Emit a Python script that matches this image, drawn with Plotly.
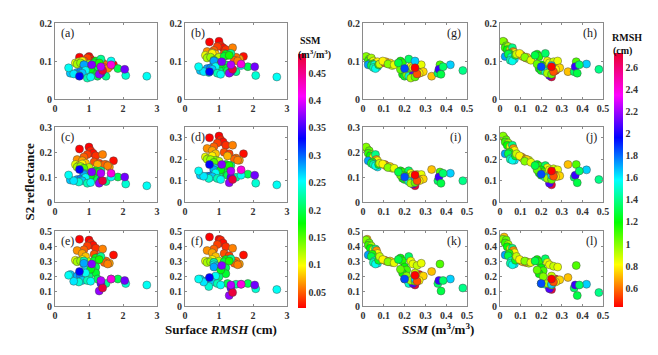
import plotly.graph_objects as go

# ---------------- data ----------------
rmsh = [0.72, 1.00, 1.05, 1.12, 0.95, 1.20, 0.85, 1.40, 1.72, 0.65,
        0.80, 1.15, 1.30, 1.60, 1.50, 1.45, 1.55, 1.25, 0.90, 0.60,
        0.70, 0.80, 0.65, 0.90, 0.75, 1.00, 0.85, 1.20, 1.15, 1.35,
        0.85, 1.20, 1.10, 1.20, 1.25, 1.00, 0.85, 0.90, 0.85, 1.05,
        1.30, 0.45, 0.65, 0.75, 0.90, 0.80, 0.70, 1.50, 2.70, 2.08,
        0.95, 1.05, 1.85, 1.65, 0.55, 0.40, 0.72, 1.35, 1.08, 2.05,
        1.30, 1.65, 1.40, 1.35]
ssm = [0.020, 0.015, 0.030, 0.025, 0.040, 0.035, 0.050, 0.060, 0.025, 0.065,
       0.070, 0.045, 0.040, 0.070, 0.055, 0.050, 0.060, 0.075, 0.080, 0.105,
       0.110, 0.095, 0.125, 0.140, 0.130, 0.120, 0.150, 0.180, 0.190, 0.220,
       0.230, 0.200, 0.210, 0.190, 0.200, 0.210, 0.240, 0.260, 0.280, 0.180,
       0.170, 0.270, 0.280, 0.290, 0.250, 0.270, 0.240, 0.220, 0.250, 0.240,
       0.230, 0.250, 0.200, 0.250, 0.260, 0.250, 0.330, 0.360, 0.370, 0.365,
       0.375, 0.420, 0.480, 0.385]
refl_1 = [0.110, 0.112, 0.105, 0.100, 0.108, 0.095, 0.100, 0.095, 0.090, 0.095,
          0.098, 0.092, 0.088, 0.085, 0.090, 0.083, 0.080, 0.090, 0.092, 0.095,
          0.098, 0.100, 0.092, 0.088, 0.095, 0.092, 0.090, 0.100, 0.095, 0.105,
          0.085, 0.075, 0.070, 0.065, 0.060, 0.063, 0.082, 0.088, 0.090, 0.078,
          0.095, 0.068, 0.070, 0.072, 0.075, 0.068, 0.062, 0.060, 0.060, 0.062,
          0.055, 0.058, 0.080, 0.100, 0.066, 0.082, 0.060, 0.068, 0.090, 0.078,
          0.065, 0.090, 0.075, 0.085]
refl_2 = [0.150, 0.152, 0.140, 0.135, 0.138, 0.130, 0.128, 0.135, 0.112, 0.125,
          0.122, 0.120, 0.118, 0.105, 0.110, 0.102, 0.100, 0.115, 0.118, 0.115,
          0.112, 0.120, 0.108, 0.105, 0.110, 0.110, 0.102, 0.118, 0.112, 0.120,
          0.100, 0.090, 0.085, 0.080, 0.075, 0.078, 0.095, 0.098, 0.100, 0.092,
          0.115, 0.075, 0.080, 0.082, 0.085, 0.078, 0.070, 0.072, 0.058, 0.062,
          0.068, 0.065, 0.085, 0.088, 0.072, 0.085, 0.072, 0.072, 0.098, 0.085,
          0.068, 0.092, 0.078, 0.090]
refl_3 = [0.212, 0.220, 0.205, 0.195, 0.190, 0.185, 0.180, 0.190, 0.165, 0.170,
          0.165, 0.160, 0.155, 0.140, 0.150, 0.150, 0.145, 0.150, 0.155, 0.150,
          0.145, 0.152, 0.140, 0.135, 0.142, 0.138, 0.135, 0.125, 0.120, 0.125,
          0.115, 0.105, 0.100, 0.095, 0.090, 0.092, 0.108, 0.110, 0.110, 0.108,
          0.120, 0.088, 0.090, 0.092, 0.098, 0.085, 0.080, 0.082, 0.065, 0.072,
          0.075, 0.078, 0.100, 0.100, 0.085, 0.108, 0.130, 0.085, 0.120, 0.100,
          0.075, 0.115, 0.085, 0.115]
refl_4 = [0.300, 0.308, 0.290, 0.280, 0.275, 0.265, 0.258, 0.265, 0.225, 0.250,
          0.240, 0.232, 0.225, 0.195, 0.205, 0.200, 0.195, 0.215, 0.225, 0.210,
          0.205, 0.215, 0.200, 0.195, 0.198, 0.190, 0.185, 0.175, 0.168, 0.170,
          0.160, 0.150, 0.140, 0.135, 0.125, 0.130, 0.150, 0.155, 0.150, 0.150,
          0.170, 0.125, 0.120, 0.122, 0.135, 0.118, 0.110, 0.115, 0.080, 0.088,
          0.110, 0.105, 0.130, 0.125, 0.120, 0.145, 0.175, 0.115, 0.175, 0.125,
          0.090, 0.150, 0.105, 0.145]
refl_5 = [0.445, 0.440, 0.420, 0.405, 0.400, 0.385, 0.375, 0.380, 0.340, 0.370,
          0.350, 0.345, 0.330, 0.285, 0.300, 0.290, 0.280, 0.305, 0.330, 0.305,
          0.300, 0.310, 0.295, 0.290, 0.300, 0.295, 0.288, 0.320, 0.300, 0.330,
          0.300, 0.260, 0.240, 0.220, 0.180, 0.200, 0.280, 0.270, 0.285, 0.245,
          0.310, 0.210, 0.200, 0.200, 0.220, 0.170, 0.160, 0.150, 0.140, 0.150,
          0.170, 0.165, 0.180, 0.180, 0.165, 0.205, 0.230, 0.150, 0.280, 0.170,
          0.100, 0.180, 0.120, 0.170]
refl_6 = [0.460, 0.445, 0.440, 0.420, 0.410, 0.395, 0.380, 0.385, 0.340, 0.370,
          0.355, 0.350, 0.335, 0.280, 0.300, 0.285, 0.275, 0.305, 0.330, 0.300,
          0.295, 0.310, 0.290, 0.285, 0.295, 0.300, 0.290, 0.310, 0.295, 0.315,
          0.290, 0.255, 0.235, 0.215, 0.150, 0.195, 0.275, 0.265, 0.260, 0.240,
          0.300, 0.180, 0.170, 0.175, 0.200, 0.160, 0.130, 0.145, 0.110, 0.115,
          0.150, 0.140, 0.150, 0.145, 0.160, 0.180, 0.190, 0.120, 0.270, 0.140,
          0.070, 0.145, 0.090, 0.140]

left_labels = ["(a)", "(b)", "(c)", "(d)", "(e)", "(f)"]
right_labels = ["(g)", "(h)", "(i)", "(j)", "(k)", "(l)"]
rmsh_ticks = [0, 1, 2, 3]
ssm_ticks = [0, 0.1, 0.2, 0.3, 0.4, 0.5]
y_ticks_row1 = [0, 0.1, 0.2]
y_ticks_row2 = [0, 0.1, 0.2, 0.3]
y_ticks_row3 = [0, 0.1, 0.2, 0.3, 0.4, 0.5]
ssm_cbar_ticks = [0.05, 0.1, 0.15, 0.2, 0.25, 0.3, 0.35, 0.4, 0.45]
rmsh_cbar_ticks = [0.6, 0.8, 1, 1.2, 1.4, 1.6, 1.8, 2, 2.2, 2.4, 2.6]

# ---------------- layout helpers ----------------
W, H = 658, 355
def fx(px):
    return px / W
def fy(py):
    return 1 - py / H

SERIF = "Liberation Serif"
hsv = [[0, "rgb(255,0,0)"], [1/6, "rgb(255,255,0)"], [2/6, "rgb(0,255,0)"],
       [3/6, "rgb(0,255,255)"], [4/6, "rgb(0,0,255)"], [5/6, "rgb(255,0,255)"],
       [1, "rgb(235,0,45)"]]

cols_px = [(55, 157), (185, 287), (363, 467), (500, 603)]
rows_px = [(23, 99), (127, 202), (231, 306)]
refl = [refl_1, refl_2, refl_3, refl_4, refl_5, refl_6]
y_ranges = [[0, 0.2], [0, 0.2], [0, 0.3], [0, 0.35], [0, 0.5], [0, 0.5]]
y_tickvals = [y_ticks_row1, y_ticks_row1, y_ticks_row2, y_ticks_row2, y_ticks_row3, y_ticks_row3]

fig = go.Figure()
layout = {}
annotations = []
axis_font = dict(family=SERIF, size=10, color="#333333", weight="bold")

n = 0
for r in range(3):
    for c in range(4):
        n += 1
        band = r * 2 + (c % 2)
        left_side = c < 2
        xs = rmsh if left_side else ssm
        cs = ssm if left_side else rmsh
        cmin, cmax = (0.021, 0.485) if left_side else (0.43, 2.73)
        marker = dict(size=8, color=cs, colorscale=hsv, cmin=cmin, cmax=cmax,
                      line=dict(color="rgba(70,70,70,0.75)", width=0.6))
        if r == 0 and c == 0:
            marker["showscale"] = True
            marker["colorbar"] = dict(
                x=fx(298), xanchor="left", y=fy(181), yanchor="middle",
                len=254 / H, lenmode="fraction", thickness=8, thicknessmode="pixels",
                xpad=0, ypad=0, outlinewidth=0, ticks="", ticklabelposition="outside",
                tickvals=ssm_cbar_ticks, ticktext=[str(v) for v in ssm_cbar_ticks],
                tickfont=dict(family=SERIF, size=10, color="#333333", weight="bold"))
        elif r == 0 and c == 2:
            marker["showscale"] = True
            marker["colorbar"] = dict(
                x=fx(614), xanchor="left", y=fy(180), yanchor="middle",
                len=254 / H, lenmode="fraction", thickness=9, thicknessmode="pixels",
                xpad=0, ypad=0, outlinewidth=0, ticks="", ticklabelposition="outside",
                tickvals=rmsh_cbar_ticks, ticktext=[f"{v:g}" for v in rmsh_cbar_ticks],
                tickfont=dict(family=SERIF, size=10, color="#333333", weight="bold"))
        else:
            marker["showscale"] = False
        fig.add_trace(go.Scatter(x=xs, y=refl[band], mode="markers", marker=marker,
                                 xaxis=f"x{n}", yaxis=f"y{n}", showlegend=False,
                                 hoverinfo="skip"))
        x0, x1 = cols_px[c]
        y0, y1 = rows_px[r]
        common = dict(showline=True, linecolor="#8a8a8a", linewidth=1, mirror="ticks",
                      ticks="inside", ticklen=2, tickcolor="#8a8a8a", showgrid=False,
                      zeroline=False, tickfont=axis_font, fixedrange=True, automargin=False)
        layout[f"xaxis{n}"] = dict(domain=[fx(x0), fx(x1)], anchor=f"y{n}",
                                   range=[0, 3] if left_side else [0, 0.5],
                                   tickvals=rmsh_ticks if left_side else ssm_ticks,
                                   ticktext=[f"{v:g}" for v in (rmsh_ticks if left_side else ssm_ticks)],
                                   **common)
        layout[f"yaxis{n}"] = dict(domain=[fy(y1), fy(y0)], anchor=f"x{n}",
                                   range=y_ranges[band], tickvals=y_tickvals[band],
                                   ticktext=[f"{v:g}" for v in y_tickvals[band]],
                                   **common)
        lab = left_labels[band] if left_side else right_labels[band]
        if left_side:
            annotations.append(dict(x=fx(x0 + 4), y=fy(y0 + 1), xref="paper", yref="paper",
                                    text=lab, showarrow=False, xanchor="left", yanchor="top",
                                    font=dict(family=SERIF, size=12, color="#222222")))
        else:
            annotations.append(dict(x=fx(x1 - 4), y=fy(y0 + 1), xref="paper", yref="paper",
                                    text=lab, showarrow=False, xanchor="right", yanchor="top",
                                    font=dict(family=SERIF, size=12, color="#222222")))

title_font = dict(family=SERIF, size=13, color="#111111", weight="bold")
annotations += [
    dict(x=fx(163), y=fy(339), xref="paper", yref="paper", showarrow=False,
         text="Surface <i>RMSH</i> (cm)", font=title_font),
    dict(x=fx(476), y=fy(339), xref="paper", yref="paper", showarrow=False,
         text="<i>SSM</i> (m<sup>3</sup>/m<sup>3</sup>)", font=title_font),
    dict(x=fx(19), y=fy(182), xref="paper", yref="paper", showarrow=False,
         text="S2 reflectance", textangle=-90, font=title_font),
    dict(x=fx(298), y=fy(33), xref="paper", yref="paper", showarrow=False, xanchor="left",
         text="SSM", font=dict(family=SERIF, size=10, color="#111111", weight="bold")),
    dict(x=fx(296), y=fy(46), xref="paper", yref="paper", showarrow=False, xanchor="left",
         text="(m<sup>3</sup>/m<sup>3</sup>)", font=dict(family=SERIF, size=10, color="#111111", weight="bold")),
    dict(x=fx(610), y=fy(30), xref="paper", yref="paper", showarrow=False, xanchor="left",
         text="RMSH", font=dict(family=SERIF, size=10, color="#111111", weight="bold")),
    dict(x=fx(611), y=fy(43), xref="paper", yref="paper", showarrow=False, xanchor="left",
         text="(cm)", font=dict(family=SERIF, size=10, color="#111111", weight="bold")),
]

fig.update_layout(width=W, height=H,
                  margin=dict(l=0, r=0, t=0, b=0, pad=0, autoexpand=False),
                  paper_bgcolor="white", plot_bgcolor="white",
                  annotations=annotations, **layout)
fig.write_html("out.html", config={"displayModeBar": False, "staticPlot": True},
               post_script="document.body.style.margin='0';document.body.style.overflow='hidden';")
